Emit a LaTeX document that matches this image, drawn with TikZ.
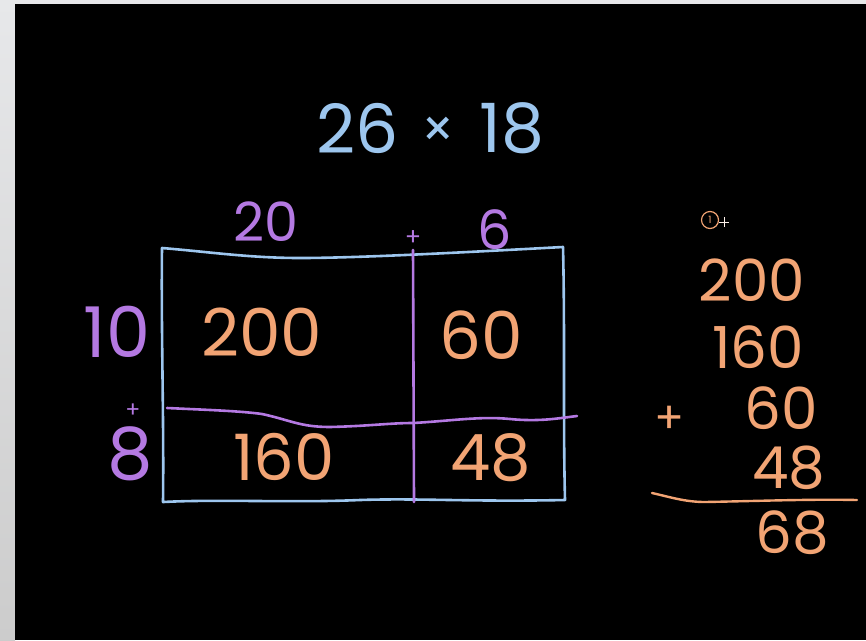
\documentclass[tikz,border=0pt]{standalone}
\usepackage{fontspec}
\newfontfamily\hand{Poppins}
\definecolor{chalkblue}{HTML}{9DC6EE}
\definecolor{chalkpurple}{HTML}{B479E2}
\definecolor{chalkorange}{HTML}{F2A474}
\definecolor{stripgray}{HTML}{E7E8EA}
\begin{document}
\begin{tikzpicture}[x=1pt,y=-1pt,
  txt/.style={inner sep=0pt,font=\hand\fontsize{#1}{#1}\selectfont},
  bl/.style={txt=#1,text=chalkblue},
  pu/.style={txt=#1,text=chalkpurple},
  orn/.style={txt=#1,text=chalkorange},
  boxline/.style={draw=chalkblue,line width=2.6pt,line cap=round,line join=round},
  splitline/.style={draw=chalkpurple,line width=2.6pt,line cap=round,line join=round},
  sumline/.style={draw=chalkorange,line width=2.4pt,line cap=round,line join=round}]
\useasboundingbox (0,0) rectangle (866,640);
% background
\shade[top color=stripgray,bottom color=black!20] (0,0) rectangle (15,640);
\fill[stripgray] (0,0) rectangle (866,4);
\fill[black] (15,4) rectangle (866,640);

% title
\node[bl=68] (t26) at (358,128) {26};
\node[bl=52] (tx) at (438,132) {×};
\node[bl=68] (t18) at (512,128) {18};

% column labels
\node[pu=54] (c20) at (266,222) {20};
\node[pu=24] (cplus) at (413,238) {+};
\node[pu=54] (c6) at (495,230) {6};

% row labels
\node[pu=70] (r10) at (117,332) {10};
\node[pu=22] (rplus) at (133,411) {+};
\node[pu=72] (r8) at (130,454) {8};

% box corners
\coordinate (tl) at (162,248);
\coordinate (tr) at (563,247);
\coordinate (br) at (565,500);
\coordinate (bl) at (163,502);
\coordinate (vt) at (413,250);
\coordinate (vb) at (414,502);
\coordinate (hl) at (167,408);
\coordinate (hr) at (577,416);

\draw[boxline] (tl) .. controls (210,252) and (250,258) .. (300,258)
  .. controls (360,258) and (470,252) .. (tr)
  .. controls (565,330) and (563,420) .. (br)
  .. controls (470,502) and (420,498) .. (360,500)
  .. controls (290,503) and (220,499) .. (bl)
  .. controls (164,420) and (161,330) .. cycle;
\draw[splitline] (vt) -- (vb);
\draw[splitline] (hl) .. controls (210,410) and (240,411) .. (262,414)
  .. controls (290,420) and (300,427) .. (330,427)
  .. controls (370,426) and (390,423) .. (413,423)
  .. controls (450,421) and (480,416) .. (510,419)
  .. controls (540,422) and (560,418) .. (hr);

% products
\node[orn=66] (p200) at (262,332) {200};
\node[orn=66] (p60) at (481,335) {60};
\node[orn=64] (p160) at (284,457) {160};
\node[orn=64] (p48) at (491,458) {48};

% column addition
\node[draw=chalkorange,line width=1.2pt,circle,minimum size=17pt,inner sep=0pt,
  text=chalkorange,font=\hand\fontsize{10}{10}\selectfont] (carry) at (710,220) {1};
\coordinate (cur) at (724,222);
\draw[white!85!chalkorange,line width=0.8pt] ([xshift=-5pt]cur) -- ([xshift=5pt]cur)
  ([yshift=-5pt]cur) -- ([yshift=5pt]cur);
\node[orn=58] (s200) at (752,280) {200};
\node[orn=58] (s160) at (758,347) {160};
\node[orn=44] (splus) at (670,420) {+};
\node[orn=58] (s60) at (781,408) {60};
\node[orn=58] (s48) at (789,468) {48};
\coordinate (sl) at (652,493);
\coordinate (sr) at (857,500);
\draw[sumline] (sl) .. controls (670,497) and (685,502) .. (705,502)
  .. controls (760,501) and (810,499) .. (sr);
\node[orn=58] (s68) at (792,533) {68};
\end{tikzpicture}
\end{document}
